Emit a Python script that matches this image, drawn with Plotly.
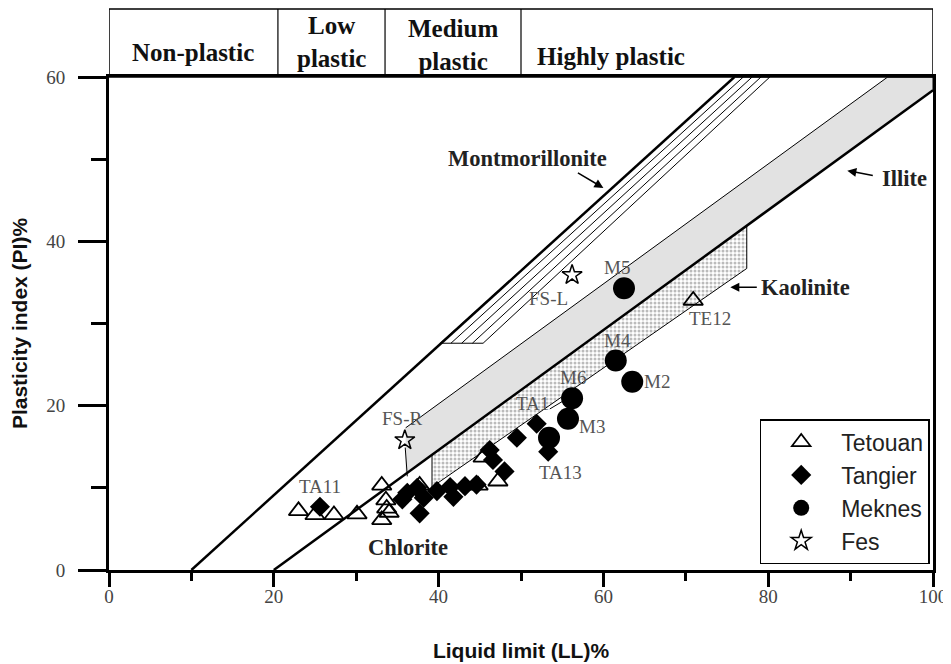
import plotly.graph_objects as go

# ---------------- data ----------------
tetouan_ll = [23.0, 25.0, 27.3, 30.1, 33.1, 33.1, 33.6, 33.7, 34.0, 37.7, 45.4, 44.8, 47.2, 70.9]
tetouan_pi = [7.2, 6.7, 6.7, 6.8, 10.3, 6.1, 8.5, 7.5, 7.0, 10.3, 13.7, 10.3, 10.8, 32.8]

tangier_ll = [25.6, 35.6, 36.2, 37.4, 37.7, 38.2, 39.8, 41.4, 41.8, 43.2, 44.6, 46.2, 46.6, 48.0, 49.5, 51.9, 53.3]
tangier_pi = [7.7, 8.6, 9.4, 10.0, 6.9, 8.8, 9.6, 10.1, 8.9, 10.2, 10.4, 14.6, 13.4, 12.0, 16.1, 17.8, 14.4]

meknes_ll = [62.5, 61.5, 63.5, 56.2, 55.7, 53.4]
meknes_pi = [34.3, 25.5, 22.9, 20.9, 18.4, 16.1]

fes_ll = [35.9, 56.2]
fes_pi = [15.8, 35.9]

# reference lines / zones (LL, PI)
upper_line_ll = [10, 75.9]
upper_line_pi = [0, 60]
a_line_ll = [20, 100]
a_line_pi = [0, 58.4]
montmor_ll = [40.2, 45.4, 80.2, 75.9]
montmor_pi = [27.6, 27.6, 60, 60]
illite_ll = [36.0, 100, 100, 94.5, 36.0]
illite_pi = [11.7, 58.4, 60, 60, 17.3]
kaolin_ll = [39.2, 77.4, 77.4, 39.2]
kaolin_pi = [14.0, 41.9, 36.7, 10.1]

header_edges = [0, 20.5, 33.5, 50, 100]

point_labels = [  # text, LL, PI, xshift, yshift
    ("TA11", 25.6, 7.7, 0, 20),
    ("TE12", 70.9, 32.8, 17, -18),
    ("M5", 62.5, 34.3, -7, 21),
    ("M4", 61.5, 25.5, 2, 20),
    ("M2", 63.5, 22.9, 25, 0),
    ("M6", 56.2, 20.9, 1, 21),
    ("M3", 55.7, 18.4, 24, -8),
    ("TA1", 51.9, 17.8, -4, 20),
    ("TA13", 53.3, 14.4, 12, -21),
    ("FS-L", 56.2, 35.9, -24, -23),
    ("FS-R", 35.9, 15.8, -3, 22),
]

SERIF = "Liberation Serif"
SANS = "Liberation Sans"

fig = go.Figure()

# Illite band (grey)
fig.add_trace(go.Scatter(x=illite_ll, y=illite_pi, mode="lines", fill="toself",
                         fillcolor="#e2e2e2", line=dict(color="black", width=1),
                         showlegend=False, hoverinfo="skip"))
# Kaolinite band (stipple)
fig.add_trace(go.Scatter(x=kaolin_ll + [kaolin_ll[0]], y=kaolin_pi + [kaolin_pi[0]], mode="lines",
                         fill="toself", fillcolor="white",
                         fillpattern=dict(shape=".", fgcolor="#777", bgcolor="white", size=4, solidity=0.45),
                         line=dict(color="black", width=1), showlegend=False, hoverinfo="skip"))
# Montmorillonite hatched band
fig.add_trace(go.Scatter(x=montmor_ll + [montmor_ll[0]], y=montmor_pi + [montmor_pi[0]], mode="lines",
                         fill="toself", fillcolor="white", line=dict(color="black", width=1),
                         showlegend=False, hoverinfo="skip"))
for f in (0.25, 0.5, 0.75):
    xb = montmor_ll[0] + f * (montmor_ll[1] - montmor_ll[0])
    xt = montmor_ll[3] + f * (montmor_ll[2] - montmor_ll[3])
    fig.add_trace(go.Scatter(x=[xb, xt], y=[montmor_pi[0], montmor_pi[3]], mode="lines",
                             line=dict(color="black", width=1), showlegend=False, hoverinfo="skip"))
# main boundary lines
fig.add_trace(go.Scatter(x=upper_line_ll, y=upper_line_pi, mode="lines",
                         line=dict(color="black", width=2.5), showlegend=False, hoverinfo="skip"))
fig.add_trace(go.Scatter(x=a_line_ll, y=a_line_pi, mode="lines",
                         line=dict(color="black", width=2.5), showlegend=False, hoverinfo="skip"))
# FS-R leader line
fig.add_trace(go.Scatter(x=[35.95, 36.2], y=[14.9, 11.4], mode="lines",
                         line=dict(color="black", width=1), showlegend=False, hoverinfo="skip"))
# TA1 leader
fig.add_trace(go.Scatter(x=[53.5, 55.0], y=[19.6, 20.5], mode="lines",
                         line=dict(color="black", width=1), showlegend=False, hoverinfo="skip"))

# data series
fig.add_trace(go.Scatter(x=tetouan_ll, y=tetouan_pi, mode="markers", name="Tetouan", legendgroup="a",
                         marker=dict(symbol="triangle-up-open", size=17, color="black",
                                     line=dict(width=1.8, color="black"))))
fig.add_trace(go.Scatter(x=tangier_ll, y=tangier_pi, mode="markers", name="Tangier", legendgroup="b",
                         marker=dict(symbol="diamond", size=15.5, color="black")))
fig.add_trace(go.Scatter(x=meknes_ll, y=meknes_pi, mode="markers", name="Meknes", legendgroup="c",
                         marker=dict(symbol="circle", size=22, color="black")))
fig.add_trace(go.Scatter(x=fes_ll, y=fes_pi, mode="markers", name="Fes", legendgroup="d",
                         marker=dict(symbol="star-open", size=15, color="black",
                                     line=dict(width=1.5, color="black"))))

annotations = []
for txt, lx, py, dx, dy in point_labels:
    annotations.append(dict(x=lx, y=py, text=txt, showarrow=False, xshift=dx, yshift=dy,
                            font=dict(family=SERIF, size=19, color="#555")))

ZF = dict(family=SERIF, size=22.5, color="#222")
annotations += [
    dict(x=50.8, y=50.1, text="<b>Montmorillonite</b>", showarrow=False, font=ZF),
    dict(x=96.6, y=47.7, text="<b>Illite</b>", showarrow=False, font=ZF),
    dict(x=84.5, y=34.4, text="<b>Kaolinite</b>", showarrow=False, font=ZF),
    dict(x=36.3, y=2.7, text="<b>Chlorite</b>", showarrow=False, font=ZF),
    dict(x=60.0, y=46.5, ax=-27, ay=-16, text="", showarrow=True, arrowhead=2,
         arrowsize=1.2, arrowwidth=1.5, arrowcolor="black"),
    dict(x=75.4, y=34.4, ax=28, ay=0, text="", showarrow=True, arrowhead=2,
         arrowsize=1.2, arrowwidth=1.5, arrowcolor="black"),
    dict(x=89.6, y=48.6, ax=27, ay=5, text="", showarrow=True, arrowhead=2,
         arrowsize=1.2, arrowwidth=1.5, arrowcolor="black"),
]

# header (page is offset by the 8px body margin)
PH = 493.0
def py_paper(ypx):
    return 1 + (77 - ypx) / PH

HF = dict(family=SERIF, size=25, color="#111")
header_texts = [
    ("<b>Non-plastic</b>", 10.25, 52),
    ("<b>Low</b><br><b>plastic</b>", 27.0, 42),
    ("<b>Medium</b><br><b>plastic</b>", 41.75, 45),
]
for t, hx, hy in header_texts:
    annotations.append(dict(x=hx, xref="x", y=py_paper(hy), yref="paper", text=t,
                            xanchor="center", yanchor="middle", showarrow=False, font=HF))
annotations.append(dict(x=51.7, xref="x", y=py_paper(56), yref="paper", text="<b>Highly plastic</b>",
                        xanchor="left", yanchor="middle", showarrow=False, font=HF))

shapes = [dict(type="rect", xref="x", yref="paper", x0=header_edges[0], x1=header_edges[-1],
               y0=1, y1=py_paper(9), line=dict(color="black", width=1.5))]
for e in header_edges[1:-1]:
    shapes.append(dict(type="line", xref="x", yref="paper", x0=e, x1=e, y0=1, y1=py_paper(9),
                       line=dict(color="black", width=1.2)))

fig.update_layout(
    width=943, height=656,
    margin=dict(l=101, r=18, t=69, b=94, autoexpand=False),
    paper_bgcolor="white", plot_bgcolor="white",
    annotations=annotations, shapes=shapes,
    legend=dict(x=0.996, y=0.012, xanchor="right", yanchor="bottom",
                bordercolor="black", borderwidth=1.5, bgcolor="white", tracegroupgap=0,
                font=dict(family=SANS, size=23, color="#222"), itemwidth=70),
    xaxis=dict(range=[0, 100], dtick=20, showgrid=False, zeroline=False, automargin=False,
               showline=True, linewidth=3, linecolor="black", mirror=True,
               ticks="outside", ticklen=14, tickwidth=2.5, tickcolor="black",
               minor=dict(ticks="outside", ticklen=8, tickwidth=2.5, dtick=10, tickcolor="black"),
               tickfont=dict(family=SERIF, size=19, color="#444"), ticklabelstandoff=-7,
               title=dict(text="<b>Liquid limit (LL)%</b>", font=dict(family=SANS, size=21, color="#111"),
                          standoff=38)),
    yaxis=dict(range=[0, 60], dtick=20, showgrid=False, zeroline=False, automargin=False,
               showline=True, linewidth=3, linecolor="black", mirror=True,
               ticks="outside", ticklen=28, tickwidth=3, tickcolor="black",
               minor=dict(ticks="outside", ticklen=15, tickwidth=3, dtick=10, tickcolor="black"),
               tickfont=dict(family=SERIF, size=19, color="#444"), ticklabelstandoff=9,
               title=dict(text="<b>Plasticity index (PI)%</b>", font=dict(family=SANS, size=21, color="#111"),
                          standoff=14)),
)

fig.write_html("out.html")
